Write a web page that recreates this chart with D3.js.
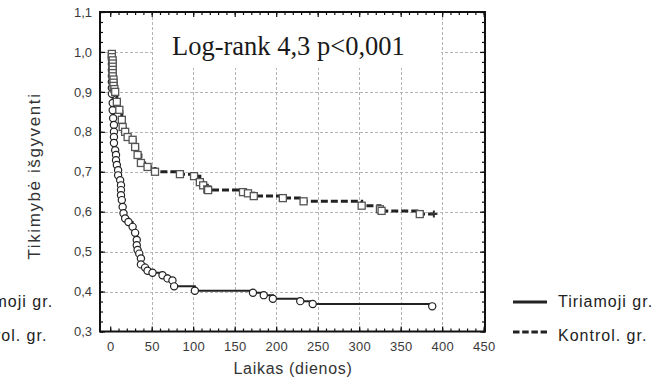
<!DOCTYPE html>
<html>
<head>
<meta charset="utf-8">
<script src="https://cdn.jsdelivr.net/npm/d3@7/dist/d3.min.js"></script>
<style>
  html, body { margin: 0; padding: 0; background: #fff; }
  svg { display: block; }
</style>
</head>
<body>
<svg id="chart" width="654" height="378"></svg>
<script>
// ---- Data ----
const xTicks = [0, 50, 100, 150, 200, 250, 300, 350, 400, 450];
const yTicks = [0.3, 0.4, 0.5, 0.6, 0.7, 0.8, 0.9, 1.0, 1.1];
const xLabel = "Laikas (dienos)";
const yLabel = "Tikimybė išgyventi";
const annotation = "Log-rank 4,3 p<0,001";
const seriesNames = ["Tiriamoji gr.", "Kontrol. gr."];

// Tiriamoji gr. (solid line, circles): event times and survival after each event
const tiriamT = [2, 2, 2, 2, 2, 2, 2, 3, 3, 3.5, 4.5, 4.5, 4.5, 4.5, 6, 7, 7, 8, 9.5, 9.5,
  12, 13, 13, 13, 14, 15, 16, 18, 22, 27, 30, 32, 32, 33, 35, 37, 37, 42, 45, 51,
  63, 69, 75, 77, 102, 172, 185, 196, 229, 244, 388];
const tiriamS = [0.985, 0.97, 0.955, 0.94, 0.925, 0.91, 0.895, 0.872, 0.854, 0.834, 0.817, 0.80, 0.787, 0.772, 0.754, 0.742, 0.729, 0.717, 0.704, 0.691,
  0.679, 0.666, 0.654, 0.641, 0.629, 0.612, 0.596, 0.583, 0.574, 0.562, 0.547, 0.529, 0.516, 0.504, 0.495, 0.483, 0.468, 0.460, 0.452, 0.447,
  0.441, 0.433, 0.428, 0.413, 0.402, 0.397, 0.391, 0.382, 0.376, 0.369, 0.363];

// Kontrol. gr. (dashed line, squares)
const kontrolT = [2, 2, 3, 3, 3, 3, 3, 3, 4, 4, 4, 5, 6, 8, 11, 14, 15, 18, 21, 27,
  30, 33, 37, 45, 54, 84, 101, 108, 112, 117, 118, 160, 166, 173, 208, 233, 303, 325, 327, 373];
const kontrolS = [0.995, 0.987, 0.979, 0.971, 0.963, 0.955, 0.947, 0.939, 0.931, 0.923, 0.915, 0.907, 0.900, 0.875, 0.855, 0.830, 0.812, 0.800, 0.787, 0.780,
  0.762, 0.742, 0.722, 0.712, 0.700, 0.694, 0.689, 0.674, 0.666, 0.656, 0.654, 0.649, 0.646, 0.639, 0.634, 0.626, 0.615, 0.606, 0.602, 0.594];
const kontrolEnd = 390;

// ---- Layout ----
const svg = d3.select("#chart");
const L = 100, R = 485, T = 12, B = 331.5;
const x = d3.scaleLinear().domain([-12.3, 451.6]).range([L, R]);
const y = d3.scaleLinear().domain([0.3, 1.1]).range([B, T]);
const fmt = v => d3.format(".1f")(v).replace(".", ",");
const sans = "'Liberation Sans', Arial, Helvetica, sans-serif";

// Grid
const grid = svg.append("g").attr("stroke", "#b4b4b4").attr("stroke-width", 1).attr("stroke-dasharray", "3,2");
grid.selectAll("line.gx").data(xTicks.filter(d => d > 0 && d < 450)).enter().append("line")
  .attr("x1", d => Math.round(x(d)) + 0.5).attr("x2", d => Math.round(x(d)) + 0.5)
  .attr("y1", T).attr("y2", B);
grid.selectAll("line.gy").data(yTicks.filter(d => d > 0.31 && d < 1.09)).enter().append("line")
  .attr("y1", d => Math.round(y(d)) + 0.5).attr("y2", d => Math.round(y(d)) + 0.5)
  .attr("x1", L).attr("x2", R);

// White box behind annotation
svg.append("rect").attr("x", 153).attr("y", T + 1).attr("width", 288).attr("height", 55).attr("fill", "#fff");
svg.append("text").attr("x", 172).attr("y", 55)
  .attr("font-family", "'Liberation Serif', 'Times New Roman', serif")
  .attr("font-size", 26.5).attr("fill", "#1a1a1a").text(annotation);

// Axes (ticks inward)
const minorX = d3.range(0, 451, 10);
const minorY = d3.range(0, 33).map(i => 0.3 + i * 0.025).filter(v => v <= 1.1001);

function styleAxis(g) {
  g.select(".domain").remove();
  g.selectAll(".tick line").attr("stroke", "#111").attr("stroke-width", 1.2);
}
// bottom
svg.append("g").attr("transform", `translate(0,${B})`)
  .call(d3.axisBottom(x).tickValues(minorX).tickSize(-3).tickFormat("")).call(styleAxis);
const bx = svg.append("g").attr("transform", `translate(0,${B})`)
  .call(d3.axisBottom(x).tickValues(xTicks).tickSize(-5).tickPadding(10).tickFormat(d3.format("d"))).call(styleAxis);
bx.selectAll("text").attr("font-family", sans).attr("font-size", 13).attr("letter-spacing", 0.3).attr("fill", "#3a3a3a");
// top
svg.append("g").attr("transform", `translate(0,${T})`)
  .call(d3.axisTop(x).tickValues(minorX).tickSize(-3).tickFormat("")).call(styleAxis);
svg.append("g").attr("transform", `translate(0,${T})`)
  .call(d3.axisTop(x).tickValues(xTicks).tickSize(-5).tickFormat("")).call(styleAxis);
// left
svg.append("g").attr("transform", `translate(${L},0)`)
  .call(d3.axisLeft(y).tickValues(minorY).tickSize(-3).tickFormat("")).call(styleAxis);
const ly = svg.append("g").attr("transform", `translate(${L},0)`)
  .call(d3.axisLeft(y).tickValues(yTicks).tickSize(-5).tickPadding(8).tickFormat(fmt)).call(styleAxis);
ly.selectAll("text").attr("font-family", sans).attr("font-size", 13).attr("fill", "#3a3a3a");
// right
svg.append("g").attr("transform", `translate(${R},0)`)
  .call(d3.axisRight(y).tickValues(minorY).tickSize(-3).tickFormat("")).call(styleAxis);
svg.append("g").attr("transform", `translate(${R},0)`)
  .call(d3.axisRight(y).tickValues(yTicks).tickSize(-5).tickFormat("")).call(styleAxis);

// Frame
svg.append("rect").attr("x", L).attr("y", T).attr("width", R - L).attr("height", B - T)
  .attr("fill", "none").attr("stroke", "#111").attr("stroke-width", 2);

// Step-line helper
function stepPts(ts, ss, endT) {
  const pts = [[0, 1.0]];
  ts.forEach((t, i) => pts.push([t, ss[i]]));
  if (endT !== undefined) pts.push([endT, ss[ss.length - 1]]);
  return pts;
}
const line = d3.line().x(d => x(d[0])).y(d => y(d[1])).curve(d3.curveStepAfter);

// Tiriamoji
svg.append("path").datum(stepPts(tiriamT, tiriamS))
  .attr("d", line).attr("fill", "none").attr("stroke", "#222").attr("stroke-width", 2);
svg.append("g").selectAll("circle").data(tiriamT.map((t, i) => [t, tiriamS[i]])).enter().append("circle")
  .attr("cx", d => x(d[0])).attr("cy", d => y(d[1])).attr("r", 3.6)
  .attr("fill", "#fff").attr("stroke", "#222").attr("stroke-width", 1.2);

// Kontrol
svg.append("path").datum(stepPts(kontrolT, kontrolS, kontrolEnd))
  .attr("d", line).attr("fill", "none").attr("stroke", "#222").attr("stroke-width", 3)
  .attr("stroke-dasharray", "7,3");
svg.append("g").selectAll("rect").data(kontrolT.map((t, i) => [t, kontrolS[i]])).enter().append("rect")
  .attr("x", d => x(d[0]) - 3.5).attr("y", d => y(d[1]) - 3.5).attr("width", 7).attr("height", 7)
  .attr("fill", "#fff").attr("stroke", "#555").attr("stroke-width", 1.3);
// censor plus at the end
const px = x(kontrolEnd), py = y(kontrolS[kontrolS.length - 1]);
svg.append("path").attr("d", `M${px - 3.5},${py}H${px + 3.5}M${px},${py - 3.5}V${py + 3.5}`)
  .attr("stroke", "#333").attr("stroke-width", 2);

// Axis titles
svg.append("text").attr("x", 293).attr("y", 374).attr("text-anchor", "middle")
  .attr("font-family", sans).attr("font-size", 16).attr("letter-spacing", 0.7).attr("fill", "#333").text(xLabel);
svg.append("text").attr("transform", "translate(40,176) rotate(-90)").attr("text-anchor", "middle")
  .attr("font-family", sans).attr("font-size", 17).attr("letter-spacing", 1.6).attr("fill", "#333").text(yLabel);

// Legends (right one fully visible, left copy clipped by the page edge)
function legend(x0, ys) {
  const g = svg.append("g");
  g.append("line").attr("x1", x0).attr("x2", x0 + 34).attr("y1", ys[0]).attr("y2", ys[0])
    .attr("stroke", "#222").attr("stroke-width", 3);
  g.append("line").attr("x1", x0).attr("x2", x0 + 34).attr("y1", ys[1]).attr("y2", ys[1])
    .attr("stroke", "#222").attr("stroke-width", 3).attr("stroke-dasharray", "6.5,2.7");
  seriesNames.forEach((n, i) => {
    g.append("text").attr("x", x0 + 45).attr("y", ys[i] + (i === 0 ? 4.5 : 9))
      .attr("font-family", sans).attr("font-size", 16).attr("letter-spacing", 1.0)
      .attr("fill", "#222").text(n);
  });
}
legend(513, [302, 332]);
legend(-87, [302, 332]);
</script>
</body>
</html>
